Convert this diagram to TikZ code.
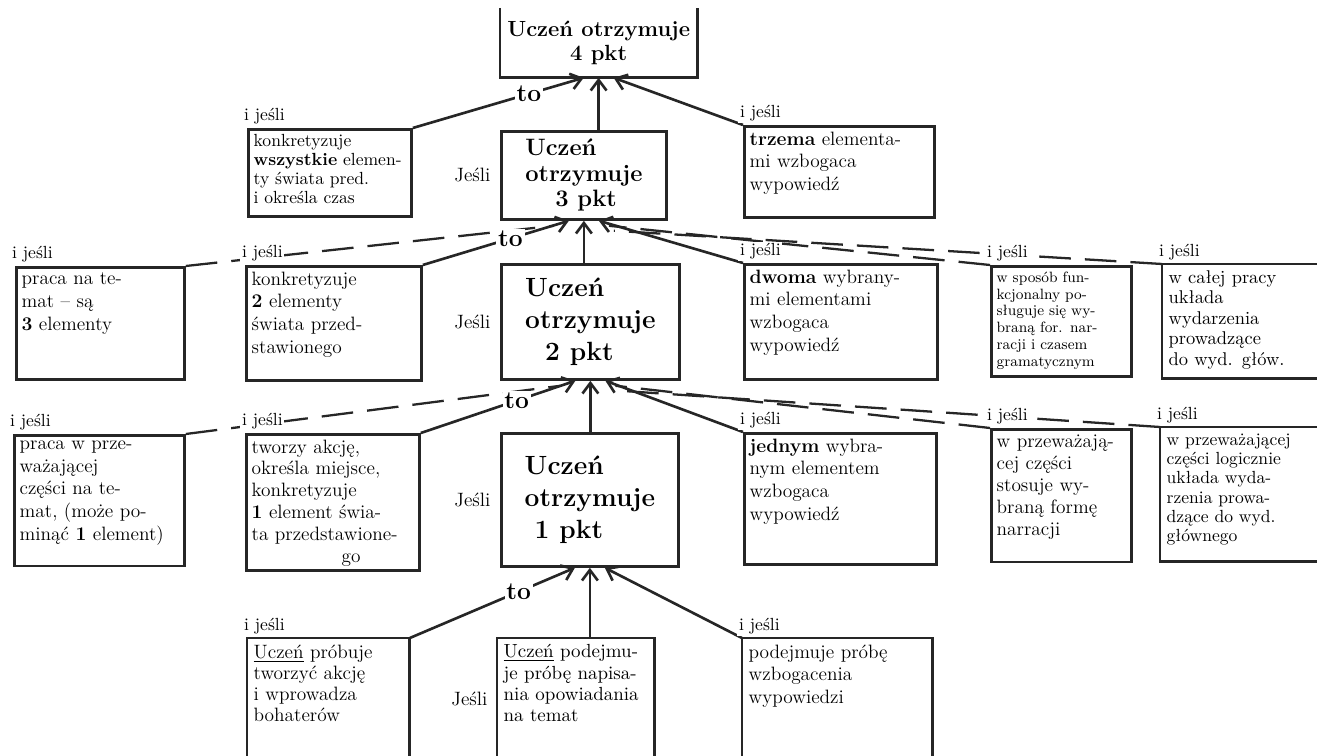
\documentclass[tikz,border=0pt]{standalone}
\usepackage{tikz}
\usepackage{xcolor}
\usetikzlibrary{positioning,arrows.meta}
\definecolor{ink}{HTML}{262626}

\begin{document}
\begin{tikzpicture}
  [x=0.02cm, y=-0.02cm, >={Straight Barb[length=6pt,width=9pt]},
   card/.style={rectangle,draw=ink,line width=1.6pt,anchor=north west,align=left,inner xsep=3pt,inner ysep=3pt,font=\fontsize{11}{13}\selectfont},
   bare/.style={card,draw=none},
   score/.style={rectangle,draw=ink,line width=1.6pt,anchor=north west,align=left,font=\fontsize{15}{18}\selectfont\bfseries},
   rim/.style={draw=ink,line width=1.6pt},
   link/.style={draw=ink,line width=1.5pt},
   faint/.style={draw=ink,line width=1.3pt,dash pattern=on 18pt off 8pt},
   ifnote/.style={fill=white,inner sep=1pt,font=\fontsize{10}{10}\selectfont},
   cond/.style={inner sep=1pt,font=\fontsize{11}{11}\selectfont},
   tonote/.style={fill=white,inner sep=1pt,font=\fontsize{14}{14}\selectfont\bfseries}]
  \useasboundingbox (0,0) rectangle (1317,756);

  % score column
  \node [score,draw=none,align=center,font=\fontsize{12.5}{14}\selectfont\bfseries,minimum width=3.44cm,minimum height=1.34cm] (p4) at (500,8) {Uczeń otrzymuje\\4 pkt};
  \draw [rim] (p4.north west) -- (p4.south west) -- (p4.south east) -- (p4.north east);
  \node [score,font=\fontsize{13.5}{14.5}\selectfont\bfseries,minimum width=3.30cm,minimum height=1.76cm] (p3) at (500,130) {Uczeń\\otrzymuje\\\hspace*{6mm}3 pkt};
  \node [score,minimum width=3.56cm,minimum height=2.30cm] (p2) at (500,263) {Uczeń\\otrzymuje\\\hspace*{4mm}2 pkt};
  \node [score,minimum width=3.54cm,minimum height=2.66cm] (p1) at (500,432) {Uczeń\\otrzymuje\\\hspace*{2mm}1 pkt};

  % level 3
  \node [card,font=\fontsize{10}{10.8}\selectfont,text width=3.05cm,text depth=1.28cm] (k3) at (247,128) {konkretyzuje\\\textbf{wszystkie} elemen-\\ty świata pred.\\i określa czas};
  \node [card,text width=3.59cm,text depth=1.35cm] (t3) at (743,125) {\textbf{trzema} elementa-\\mi wzbogaca\\wypowiedź};

  % level 2
  \node [card,text width=3.15cm,text depth=1.79cm] (m2) at (15,266) {praca na te-\\mat -- są\\\textbf{3} elementy};
  \node [card,text width=3.29cm,text depth=1.81cm] (k2) at (245,265) {konkretyzuje\\\textbf{2} elementy\\świata przed-\\stawionego};
  \node [card,text width=3.65cm,text depth=1.83cm] (d2) at (743,263) {\textbf{dwoma} wybrany-\\mi elementami\\wzbogaca\\wypowiedź};
  \node [card,font=\fontsize{8.5}{9.6}\selectfont,text width=2.59cm,text depth=1.78cm] (f2) at (990,265) {w sposób fun-\\kcjonalny po-\\sługuje się wy-\\braną for. nar-\\racji i czasem\\gramatycznym};
  \node [bare,font=\fontsize{10.5}{11.6}\selectfont,text width=2.87cm,text depth=1.77cm] (c2) at (1162,264) {w całej pracy\\układa\\wydarzenia\\prowadzące\\do wyd. głów.};
  \draw [rim] (c2.north east) -- (c2.north west) -- (c2.south west) -- (c2.south east);

  % level 1
  \node [card,text width=3.19cm,text depth=2.23cm] (m1) at (13,434) {praca w prze-\\ważającej\\części na te-\\mat, (może po-\\minąć \textbf{1} element)};
  \node [card,font=\fontsize{11}{12.4}\selectfont,text width=3.25cm,text depth=2.25cm] (k1) at (245,433) {tworzy akcję,\\określa miejsce,\\konkretyzuje\\\textbf{1} element świa-\\ta przedstawione-\\\hspace*{18mm}go};
  \node [card,text width=3.63cm,text depth=2.15cm] (d1) at (743,432) {\textbf{jednym} wybra-\\nym elementem\\wzbogaca\\wypowiedź};
  \node [card,font=\fontsize{11}{12.5}\selectfont,text width=2.59cm,text depth=2.19cm] (f1) at (990,428) {w przeważają-\\cej części\\stosuje wy-\\braną formę\\narracji};
  \node [bare,font=\fontsize{10}{11}\selectfont,text width=2.91cm,text depth=2.20cm] (c1) at (1160,427) {w przeważającej\\części logicznie\\układa wyda-\\rzenia prowa-\\dzące do wyd.\\głównego};
  \draw [rim] (c1.north east) -- (c1.north west) -- (c1.south west) -- (c1.south east);

  % level 0
  \node [bare,font=\fontsize{11}{12}\selectfont,text width=2.99cm,text depth=1.91cm] (u0) at (247,638) {\underline{Uczeń} próbuje\\tworzyć akcję\\i wprowadza\\bohaterów};
  \node [bare,font=\fontsize{10.8}{12}\selectfont,text width=2.89cm,text depth=1.91cm] (p0) at (497,638) {\underline{Uczeń} podejmu-\\je próbę napisa-\\nia opowiadania\\na temat};
  \node [bare,text width=3.55cm,text depth=1.91cm] (e0) at (742,638) {podejmuje próbę\\wzbogacenia\\wypowiedzi};
  \draw [rim] (u0.south west) -- (u0.north west) -- (u0.north east) -- (u0.south east);
  \draw [rim] (p0.south west) -- (p0.north west) -- (p0.north east) -- (p0.south east);
  \draw [rim] (e0.south west) -- (e0.north west) -- (e0.north east) -- (e0.south east);

  % to 4 pkt
  \draw [link,->] (p3.north -| p4.south) -- (p4.south);
  \draw [link,->] (k3.north east) -- node [tonote,pos=.68] (to4) {to} ([xshift=-3mm]p4.south);
  \draw [link,->] (t3.north west) -- ([xshift=3mm]p4.south);

  % to 3 pkt
  \draw [faint] (m2.north east) -- ([xshift=-6mm,yshift=-1mm]p3.south);
  \draw [link,->] (p2.north -| p3.south) -- (p3.south);
  \draw [link,->] (k2.north east) -- node [tonote,pos=.6] (to3) {to} ([xshift=-3mm]p3.south);
  \draw [link,->] (d2.north west) -- ([xshift=3mm]p3.south);
  \draw [faint] (f2.north west) -- ([xshift=5mm,yshift=-1mm]p3.south);
  \draw [faint] (c2.north west) -- ([xshift=6mm,yshift=-2mm]p3.south);

  % to 2 pkt
  \draw [faint] (m1.north east) -- ([xshift=-6mm,yshift=-1mm]p2.south);
  \draw [link,->] (p1.north -| p2.south) -- (p2.south);
  \draw [link,->] (k1.north east) -- node [tonote,pos=.62] (to2) {to} ([xshift=-3mm]p2.south);
  \draw [link,->] (d1.north west) -- ([xshift=3mm]p2.south);
  \draw [faint] (f1.north west) -- ([xshift=5mm,yshift=-1mm]p2.south);
  \draw [faint] (c1.north west) -- ([xshift=6mm,yshift=-2mm]p2.south);

  % to 1 pkt
  \draw [link,->] (p0.north -| p1.south) -- (p1.south);
  \draw [link,->] (u0.north east) -- node [tonote,pos=.66] (to1) {to} ([xshift=-3mm]p1.south);
  \draw [link,->] (e0.north west) -- ([xshift=3mm]p1.south);

  % conditions
  \node [cond,left=1.5mm of p3] (j3) {Jeśli};
  \node [cond,left=1.5mm of p2] (j2) {Jeśli};
  \node [cond,left=1.5mm of p1] (j1) {Jeśli};
  \node [cond,left=1.5mm of p0] (j0) {Jeśli};

  \node [ifnote,above right=0.3mm and -1mm of k3.north west] (ik3) {i jeśli};
  \node [ifnote,above right=0.3mm and -1mm of t3.north west] (it3) {i jeśli};
  \node [ifnote,above right=0.3mm and -1mm of m2.north west] (im2) {i jeśli};
  \node [ifnote,above right=0.3mm and -1mm of k2.north west] (ik2) {i jeśli};
  \node [ifnote,above right=0.3mm and -1mm of d2.north west] (id2) {i jeśli};
  \node [ifnote,above right=0.3mm and -1mm of f2.north west] (if2) {i jeśli};
  \node [ifnote,above right=0.3mm and -1mm of c2.north west] (ic2) {i jeśli};
  \node [ifnote,above right=0.3mm and -1mm of m1.north west] (im1) {i jeśli};
  \node [ifnote,above right=0.3mm and -1mm of k1.north west] (ik1) {i jeśli};
  \node [ifnote,above right=0.3mm and -1mm of d1.north west] (id1) {i jeśli};
  \node [ifnote,above right=0.3mm and -1mm of f1.north west] (if1) {i jeśli};
  \node [ifnote,above right=0.3mm and -1mm of c1.north west] (ic1) {i jeśli};
  \node [ifnote,above right=0.3mm and -1mm of u0.north west] (iu0) {i jeśli};
  \node [ifnote,above right=0.3mm and -1mm of e0.north west] (ie0) {i jeśli};
\end{tikzpicture}
\end{document}
